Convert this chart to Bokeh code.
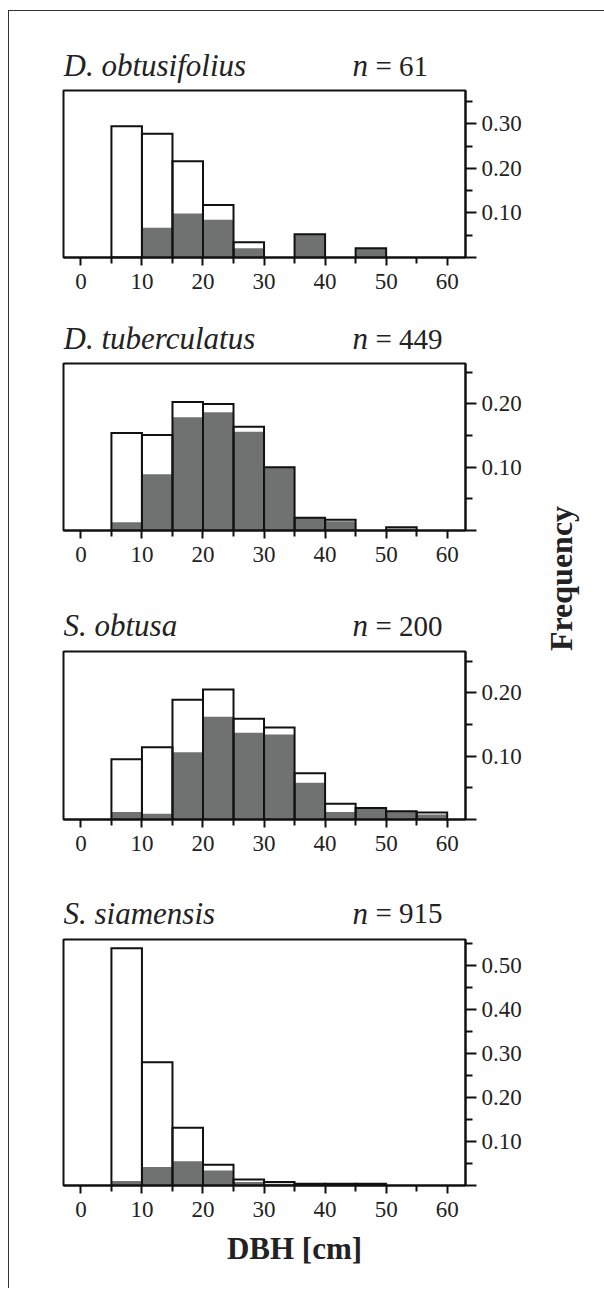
from math import pi
from bokeh.plotting import figure
from bokeh.layouts import column, row
from bokeh.models import Range1d, FixedTicker, Label, ColumnDataSource, CustomJSTickFormatter
from bokeh.embed import file_html
from bokeh.resources import INLINE

# ---------------- data ----------------
bin_left = [5, 10, 15, 20, 25, 30, 35, 40, 45, 50, 55]
bin_right = [10, 15, 20, 25, 30, 35, 40, 45, 50, 55, 60]

species = ["D. obtusifolius", "D. tuberculatus", "S. obtusa", "S. siamensis"]
n_values = [61, 449, 200, 915]

# white (all trees) relative frequency per 5 cm DBH class
total_d_obtusifolius = [0.295, 0.278, 0.216, 0.118, 0.034, 0.0, 0.052, 0.0, 0.021, 0.0, 0.0]
total_d_tuberculatus = [0.154, 0.151, 0.203, 0.200, 0.164, 0.100, 0.020, 0.017, 0.0, 0.0053, 0.0]
total_s_obtusa = [0.095, 0.114, 0.189, 0.205, 0.159, 0.145, 0.073, 0.025, 0.018, 0.013, 0.011]
total_s_siamensis = [0.539, 0.280, 0.131, 0.047, 0.0136, 0.008, 0.004, 0.004, 0.004, 0.0, 0.0]

# grey subset relative frequency per class
grey_d_obtusifolius = [0.0, 0.067, 0.099, 0.085, 0.021, 0.0, 0.052, 0.0, 0.021, 0.0, 0.0]
grey_d_tuberculatus = [0.013, 0.089, 0.179, 0.187, 0.156, 0.100, 0.020, 0.0145, 0.0, 0.003, 0.0]
grey_s_obtusa = [0.012, 0.009, 0.106, 0.162, 0.137, 0.134, 0.058, 0.012, 0.017, 0.013, 0.008]
grey_s_siamensis = [0.010, 0.042, 0.055, 0.034, 0.008, 0.004, 0.002, 0.002, 0.002, 0.0, 0.0]

x_ticks = [0, 10, 20, 30, 40, 50, 60]
x_minor_ticks = [5, 15, 25, 35, 45, 55]

y_ticks_1 = [0.0, 0.10, 0.20, 0.30]
y_minor_1 = [0.05, 0.15, 0.25, 0.35]
y_ticks_2 = [0.0, 0.10, 0.20]
y_minor_2 = [0.05, 0.15, 0.25]
y_ticks_4 = [0.0, 0.10, 0.20, 0.30, 0.40, 0.50]
y_minor_4 = [0.05, 0.15, 0.25, 0.35, 0.45, 0.55]

y_max = [0.375, 0.264, 0.265, 0.559]

x_title = "DBH [cm]"
y_title = "Frequency"

# ---------------- style ----------------
FONT = "Liberation Serif"
INK = "#111111"
TXT = "#222222"
GREY = "#707272"
FIG_W = 530
SIDE_W = 65


def text_fig(width, height):
    f = figure(width=width, height=height, x_range=Range1d(0, 1), y_range=Range1d(0, 1),
               toolbar_location=None, output_backend="svg", x_axis_type=None,
               y_axis_type=None, min_border=0)
    f.outline_line_color = None
    f.grid.visible = False
    return f


def title_fig(title, n, height, mid):
    f = text_fig(FIG_W, height)
    f.add_layout(Label(x=0, y=mid, x_units="screen", y_units="screen", text=title,
                       text_font=FONT, text_font_style="italic", text_font_size="31px",
                       text_color=TXT, text_baseline="middle", text_align="left"))
    f.add_layout(Label(x=289, y=mid, x_units="screen", y_units="screen", text="n",
                       text_font=FONT, text_font_style="italic", text_font_size="31px",
                       text_color=TXT, text_baseline="middle", text_align="left"))
    f.add_layout(Label(x=312, y=mid, x_units="screen", y_units="screen", text="= %d" % n,
                       text_font=FONT, text_font_style="normal", text_font_size="29px",
                       text_color=TXT, text_baseline="middle", text_align="left"))
    return f


def panel(total, grey, ymax, yt, ym, height, frame_h):
    bottom = height - 4 - frame_h
    p = figure(width=FIG_W, height=height,
               x_range=Range1d(-2.85, 63.0), y_range=Range1d(0, ymax),
               y_axis_location="right", toolbar_location=None, output_backend="svg",
               min_border_left=54, min_border_right=FIG_W - 456,
               min_border_top=4, min_border_bottom=bottom)
    p.grid.visible = False
    p.outline_line_color = INK
    p.outline_line_width = 2

    gl = [l for l, g in zip(bin_left, grey) if g > 0]
    gr = [r for r, g in zip(bin_right, grey) if g > 0]
    gv = [g for g in grey if g > 0]
    tl = [l for l, t in zip(bin_left, total) if t > 0]
    tr = [r for r, t in zip(bin_right, total) if t > 0]
    tv = [t for t in total if t > 0]

    gsrc = ColumnDataSource(dict(left=gl, right=gr, top=gv))
    tsrc = ColumnDataSource(dict(left=tl, right=tr, top=tv))
    p.quad(left="left", right="right", bottom=0, top="top", source=gsrc,
           fill_color=GREY, line_color=None)
    p.quad(left="left", right="right", bottom=0, top="top", source=tsrc,
           fill_color=None, line_color=INK, line_width=2, line_join="miter")

    xa = p.xaxis[0]
    xa.ticker = FixedTicker(ticks=x_ticks, minor_ticks=x_minor_ticks)
    xa.axis_line_color = INK
    xa.axis_line_width = 2
    xa.major_tick_line_color = INK
    xa.minor_tick_line_color = INK
    xa.major_tick_line_width = 2
    xa.minor_tick_line_width = 2
    xa.major_tick_in = 0
    xa.major_tick_out = 8
    xa.minor_tick_in = 0
    xa.minor_tick_out = 6
    xa.major_label_standoff = 8
    xa.major_label_text_font = FONT
    xa.major_label_text_font_size = "23px"
    xa.major_label_text_color = TXT

    ya = p.yaxis[0]
    ya.ticker = FixedTicker(ticks=yt, minor_ticks=ym)
    ya.formatter = CustomJSTickFormatter(code="return Math.abs(tick) < 1e-9 ? '' : tick.toFixed(2);")
    ya.axis_line_color = INK
    ya.axis_line_width = 2
    ya.major_tick_line_color = INK
    ya.minor_tick_line_color = INK
    ya.major_tick_line_width = 2
    ya.minor_tick_line_width = 2
    ya.major_tick_in = 0
    ya.major_tick_out = 11
    ya.minor_tick_in = 0
    ya.minor_tick_out = 7
    ya.major_label_standoff = 5
    ya.major_label_text_font = FONT
    ya.major_label_text_font_size = "23px"
    ya.major_label_text_color = TXT
    return p


t1 = title_fig(species[0], n_values[0], 75, 21)
p1 = panel(total_d_obtusifolius, grey_d_obtusifolius, y_max[0], y_ticks_1, y_minor_1, 219, 167)
t2 = title_fig(species[1], n_values[1], 54, 20.7)
p2 = panel(total_d_tuberculatus, grey_d_tuberculatus, y_max[1], y_ticks_2, y_minor_2, 231, 167)
t3 = title_fig(species[2], n_values[2], 57, 22)
p3 = panel(total_s_obtusa, grey_s_obtusa, y_max[2], y_ticks_2, y_minor_2, 233, 168)
t4 = title_fig(species[3], n_values[3], 55, 22.3)
p4 = panel(total_s_siamensis, grey_s_siamensis, y_max[3], y_ticks_4, y_minor_4, 295, 246)

xl = text_fig(FIG_W, 58)
xl.add_layout(Label(x=231, y=40, x_units="screen", y_units="screen", text=x_title,
                    text_font=FONT, text_font_style="bold", text_font_size="31px",
                    text_color=TXT, text_baseline="middle", text_align="center"))

TOTAL_H = 75 + 219 + 54 + 231 + 57 + 233 + 55 + 295 + 58
pf = text_fig(SIDE_W, TOTAL_H)
pf.add_layout(Label(x=21, y=TOTAL_H + 11 - 578, x_units="screen", y_units="screen",
                    text=y_title, angle=pi / 2, text_font=FONT, text_font_style="bold",
                    text_font_size="32px", text_color=TXT, text_baseline="middle",
                    text_align="center"))

layout = row(column(t1, p1, t2, p2, t3, p3, t4, p4, xl, spacing=0), pf, spacing=0,
             styles={"border-top": "1px solid #333", "border-left": "1px solid #333",
                     "margin-left": "8px", "margin-top": "10px"})

open("out.html", "w").write(file_html(layout, INLINE))
